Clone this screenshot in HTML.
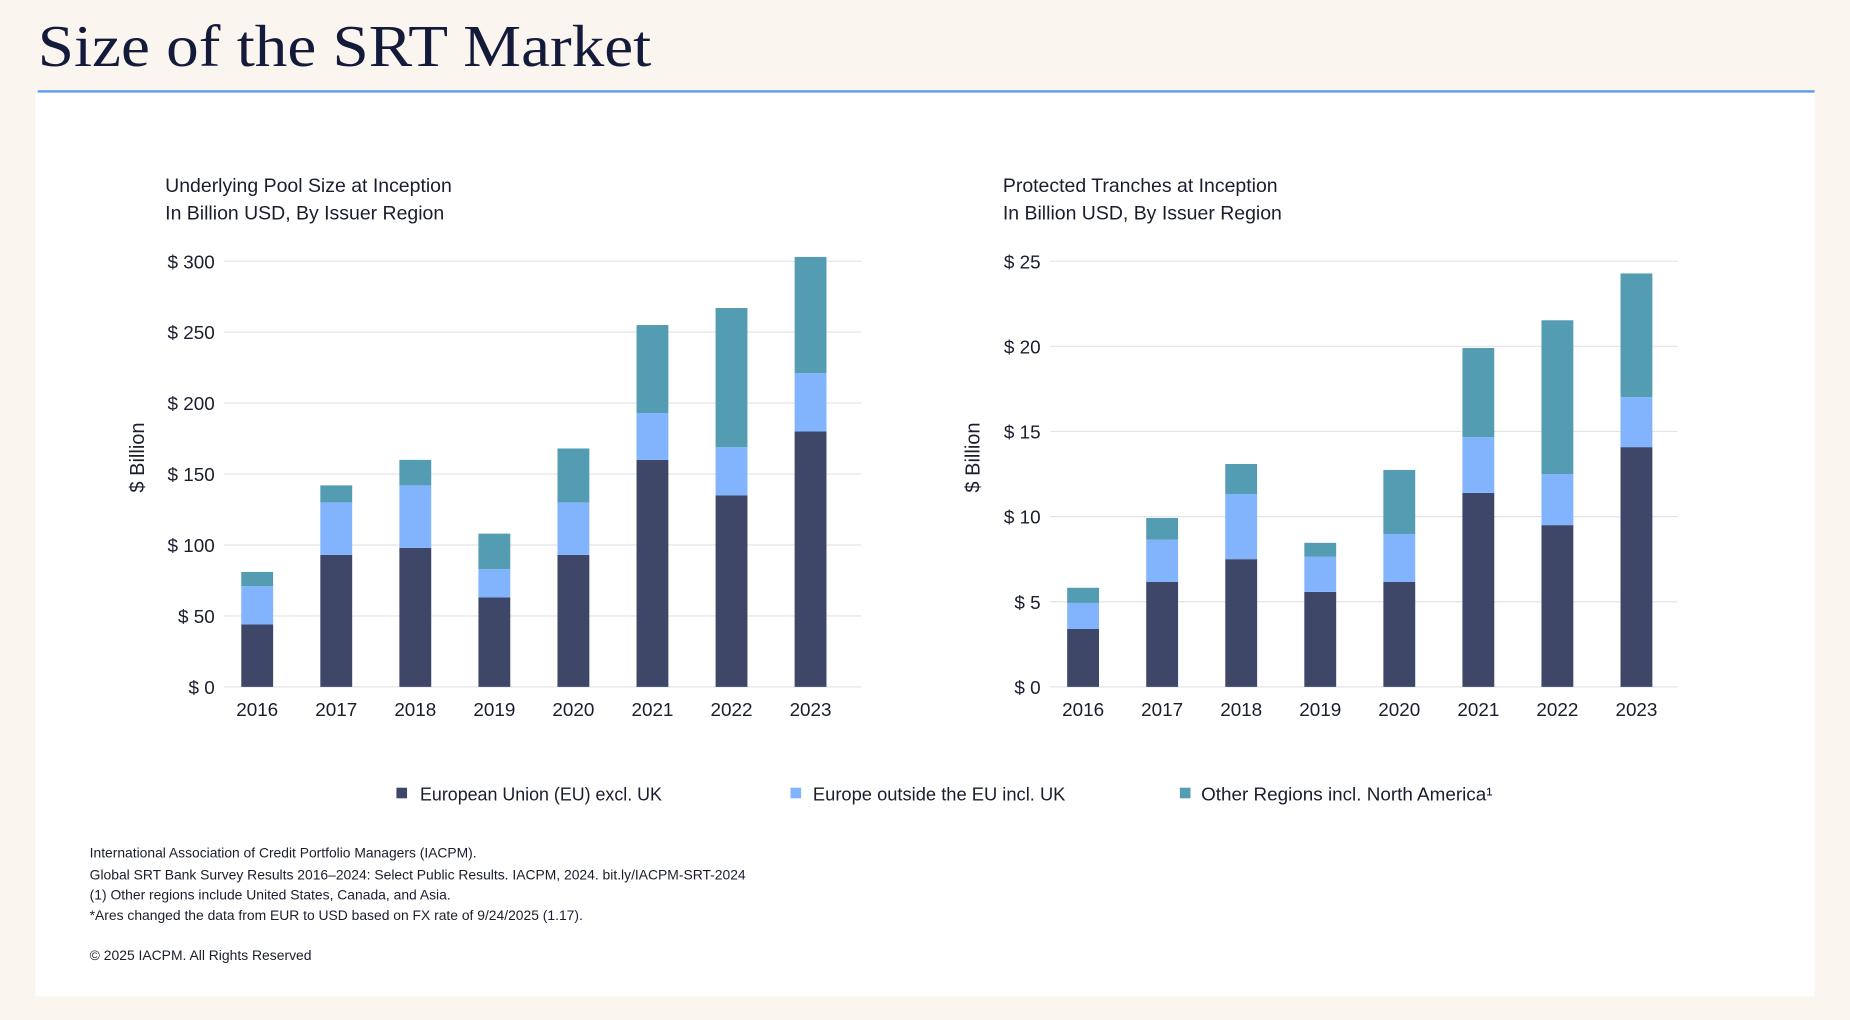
<!DOCTYPE html>
<html><head><meta charset="utf-8"><style>
html,body{margin:0;padding:0;background:#faf6ef;}
svg{display:block;}
text{font-family:"Liberation Sans",sans-serif;}
</style></head><body>
<svg id="root" width="1850" height="1020" viewBox="0 0 1568 865" preserveAspectRatio="none">
<rect x="0" y="0" width="1568" height="865" fill="#faf6ef"/>
<rect x="30" y="79" width="1508" height="766" fill="#ffffff"/>
<text x="32" y="56" font-family="Liberation Serif, serif" font-size="50" fill="#141a3a" textLength="520" lengthAdjust="spacingAndGlyphs" style="font-family:'Liberation Serif',serif">Size of the SRT Market</text>
<rect x="32" y="76.5" width="1506" height="2" fill="#5b9bf0"/>

<g id="left-chart"></g>
<g id="right-chart"></g>

<g>
  <g>
    <rect x="336" y="668" width="9" height="9" fill="#3f4768"/>
    <text x="356" y="679" font-size="16" fill="#1a1d2e" textLength="205" lengthAdjust="spacingAndGlyphs">European Union (EU) excl. UK</text>
  </g>
  <g>
    <rect x="670" y="668" width="9" height="9" fill="#82b4fd"/>
    <text x="689" y="679" font-size="16" fill="#1a1d2e" textLength="214" lengthAdjust="spacingAndGlyphs">Europe outside the EU incl. UK</text>
  </g>
  <g>
    <rect x="1000" y="668" width="9" height="9" fill="#549cb2"/>
    <text x="1018" y="679" font-size="16" fill="#1a1d2e" textLength="247" lengthAdjust="spacingAndGlyphs">Other Regions incl. North America¹</text>
  </g>
</g>

<g font-size="12" fill="#1a1d2e">
  <text x="76" y="727" textLength="328" lengthAdjust="spacingAndGlyphs">International Association of Credit Portfolio Managers (IACPM).</text>
  <text x="76" y="746" textLength="556" lengthAdjust="spacingAndGlyphs">Global SRT Bank Survey Results 2016–2024: Select Public Results. IACPM, 2024. bit.ly/IACPM-SRT-2024</text>
  <text x="76" y="763" textLength="306" lengthAdjust="spacingAndGlyphs">(1) Other regions include United States, Canada, and Asia.</text>
  <text x="76" y="780" textLength="418" lengthAdjust="spacingAndGlyphs">*Ares changed the data from EUR to USD based on FX rate of 9/24/2025 (1.17).</text>
  <text x="76" y="814" textLength="188" lengthAdjust="spacingAndGlyphs">© 2025 IACPM. All Rights Reserved</text>
</g>
</svg>
<script>
const categories = ["2016","2017","2018","2019","2020","2021","2022","2023"];
const poolEU = [44, 93, 98, 63, 93, 160, 135, 180];
const poolEurope = [27, 37, 44, 20, 37, 33, 34, 41];
const poolOther = [10, 12, 18, 25, 38, 62, 98, 82];
const poolTicks = [0, 50, 100, 150, 200, 250, 300];
const poolTickLabels = ["$ 0","$ 50","$ 100","$ 150","$ 200","$ 250","$ 300"];
const trEU = [3.4, 6.16, 7.5, 5.58, 6.16, 11.39, 9.5, 14.08];
const trEurope = [1.53, 2.48, 3.83, 2.06, 2.82, 3.28, 3.0, 2.93];
const trOther = [0.89, 1.28, 1.76, 0.82, 3.76, 5.23, 9.03, 7.27];
const trTicks = [0, 5, 10, 15, 20, 25];
const trTickLabels = ["$ 0","$ 5","$ 10","$ 15","$ 20","$ 25"];
const colors = ["#3f4768", "#82b4fd", "#549cb2"];
const NS = "http://www.w3.org/2000/svg";

function mk(parent, tag, attrs, txt) {
  const el = document.createElementNS(NS, tag);
  for (const k in attrs) el.setAttribute(k, attrs[k]);
  if (txt !== undefined) el.textContent = txt;
  parent.appendChild(el);
  return el;
}

function drawChart(g, cfg) {
  const y = v => cfg.y0 - (v - 0) / cfg.max * (cfg.y0 - cfg.yTop);
  const x = i => cfg.xFirst + i * (cfg.xLast - cfg.xFirst) / (categories.length - 1);
  let t = mk(g, "text", {x: cfg.titleX, y: 163, "font-size": 16.5, fill: "#1a1d2e"}, cfg.title1);
  
  
  t = mk(g, "text", {x: cfg.titleX, y: 186, "font-size": 16.5, fill: "#1a1d2e"}, cfg.title2);
  
  
  cfg.ticks.forEach((v, i) => {
    const ln = mk(g, "line", {x1: cfg.gx1, x2: cfg.gx2, y1: y(v), y2: y(v), stroke: "#e3e3ea", "stroke-width": 1});
    
    
    const lb = mk(g, "text", {x: cfg.gx1 - 8, y: y(v) + 6, "font-size": 16, fill: "#1a1d2e", "text-anchor": "end"}, cfg.tickLabels[i]);
    
    
  });
  const at = mk(g, "text", {x: 0, y: 0, "font-size": 17, fill: "#1a1d2e", "text-anchor": "middle", transform: `translate(${cfg.axisX},${(cfg.y0 + cfg.yTop) / 2 - 14}) rotate(-90)`}, "$ Billion");
  
  
  categories.forEach((c, i) => {
    let base = 0;
    cfg.series.forEach((s, si) => {
      const v = s[i];
      const r = mk(g, "rect", {x: x(i) - 13.5, y: y(base + v), width: 27, height: y(base) - y(base + v), fill: colors[si]});
      
      
      base += v;
    });
    const cl = mk(g, "text", {x: x(i), y: 607, "font-size": 16, fill: "#1a1d2e", "text-anchor": "middle"}, c);
    
    
  });
}

drawChart(document.getElementById("left-chart"), {
  title1: "Underlying Pool Size at Inception", title2: "In Billion USD, By Issuer Region",
  titleX: 140, gx1: 190, gx2: 730, y0: 582.5, yTop: 221.5, max: 300, axisX: 122,
  xFirst: 218, xLast: 687, ticks: poolTicks, tickLabels: poolTickLabels,
  series: [poolEU, poolEurope, poolOther], names: ["eu", "europe-outside-eu", "other"]
});
drawChart(document.getElementById("right-chart"), {
  title1: "Protected Tranches at Inception", title2: "In Billion USD, By Issuer Region",
  titleX: 850, gx1: 890, gx2: 1422, y0: 582.5, yTop: 221.5, max: 25, axisX: 830,
  xFirst: 918, xLast: 1387, ticks: trTicks, tickLabels: trTickLabels,
  series: [trEU, trEurope, trOther], names: ["eu", "europe-outside-eu", "other"]
});
</script>
</body></html>
